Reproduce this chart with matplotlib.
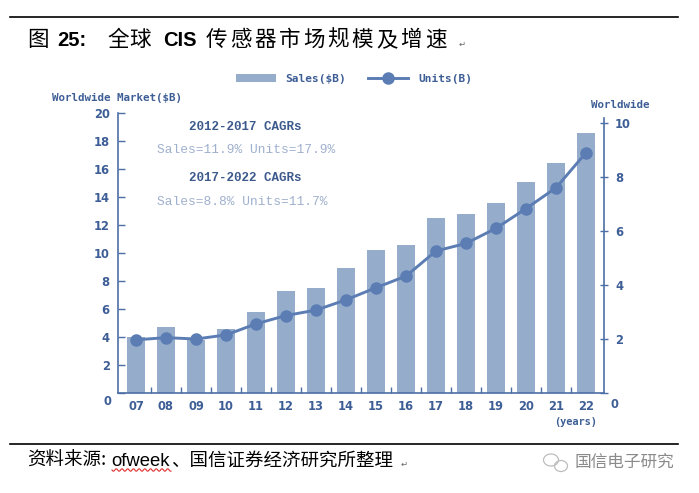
import numpy as np
import matplotlib.pyplot as plt
from matplotlib.patches import Ellipse

# ============================================================
# DATOS
# ============================================================

years = ["07", "08", "09", "10", "11", "12", "13", "14",
         "15", "16", "17", "18", "19", "20", "21", "22"]
sales = [4.0, 4.7, 3.8, 4.6, 5.8, 7.3, 7.5, 8.9,
         10.2, 10.6, 12.5, 12.8, 13.6, 15.1, 16.4, 18.6]
units = [1.97, 2.05, 2.0, 2.15, 2.56, 2.87, 3.07, 3.45,
         3.9, 4.33, 5.26, 5.54, 6.1, 6.83, 7.6, 8.9]
left_ticks = [0, 2, 4, 6, 8, 10, 12, 14, 16, 18, 20]
right_ticks = [0, 2, 4, 6, 8, 10]

cagr_lines = ["2012-2017 CAGRs", "Sales=11.9% Units=17.9%",
              "2017-2022 CAGRs", "Sales=8.8% Units=11.7%"]

# (texto, negrita, x inicial px, avance por caracter px)
title_parts = [("图", False, 27, 0), ("25:", True, 57, 0), ("全球", False, 107, 22.5),
               ("CIS", True, 163, 0), ("传感器市场规模及增速", False, 206, 24.3)]
source_parts = [("资料来源:", 27), ("ofweek", 111), ("、国信证券经济研究所整理", 171)]

# ============================================================
# ESTILO
# ============================================================

BAR = "#95adcb"
LINE = "#5b7db4"
AXIS = "#4d6fa6"
TXT = "#3e5e96"
LIGHT = "#9fb0cd"
CJK = ["Noto Sans CJK SC", "DejaVu Sans"]
MONO = "DejaVu Sans Mono"

W, H = 699, 493
fig = plt.figure(figsize=(W / 100, H / 100), dpi=100)


def px(x, y):
    return x / W, 1 - y / H


# ============================================================
# GRAFICA
# ============================================================

ax = fig.add_axes([118 / W, (H - 393) / H, (604 - 118) / W, 280 / H])
x = np.arange(len(years))
bars = ax.bar(x, sales, width=0.6, color=BAR, zorder=2)
ax.set_xlim(-0.6, len(years) - 0.4)
ax.set_ylim(0, 20)
ax.set_yticks(left_ticks)
ax.set_yticklabels([""] + [str(t) for t in left_ticks[1:]])
ax.set_xticks(x)
ax.set_xticklabels(years)
ax.set_xticks(x[:-1] + 0.5, minor=True)

ax2 = ax.twinx()
line, = ax2.plot(x, units, color=LINE, lw=2.1, marker="o", ms=8,
                 markerfacecolor=LINE, markeredgecolor=LINE, zorder=3)
ax2.set_ylim(0, 10 * 280 / 270)
ax2.set_yticks(right_ticks)
ax2.set_yticklabels([""] + [str(t) for t in right_ticks[1:]])

for a in (ax, ax2):
    for s in a.spines.values():
        s.set_visible(False)
    a.tick_params(colors=AXIS, labelcolor=TXT, labelsize=8.3)
    for lab in a.get_yticklabels() + a.get_xticklabels():
        lab.set_fontweight("bold")

ax.spines["left"].set_visible(True)
ax.spines["left"].set_color(AXIS)
ax.spines["left"].set_linewidth(1.2)
ax.spines["bottom"].set_visible(True)
ax.spines["bottom"].set_color(AXIS)
ax.spines["bottom"].set_linewidth(1.2)
ax2.spines["right"].set_visible(True)
ax2.spines["right"].set_color(AXIS)
ax2.spines["right"].set_linewidth(1.2)
ax2.spines["right"].set_bounds(0, 10.2)

ax.tick_params(axis="y", direction="in", length=5, width=1, pad=6)
ax.tick_params(axis="x", which="major", length=0, pad=5)
ax.tick_params(axis="x", which="minor", direction="in", length=4, width=1, color=AXIS)
ax2.tick_params(axis="y", direction="inout", length=6, width=1, pad=5)

# ceros de los ejes, algo mas abajo que el resto
ax.annotate("0", xy=(0, 0), xycoords="axes fraction", xytext=(-5, -6),
            textcoords="offset points", ha="right", va="center",
            fontsize=8.3, weight="bold", color=TXT)
ax2.annotate("0", xy=(1, 0), xycoords="axes fraction", xytext=(5, -8),
             textcoords="offset points", ha="left", va="center",
             fontsize=8.3, weight="bold", color=TXT)

fig.text(*px(52, 98), "Worldwide Market($B)", family=MONO, weight="bold",
         fontsize=7.8, color=TXT, va="center")
fig.text(*px(591, 105), "Worldwide", family=MONO, weight="bold",
         fontsize=7.8, color=TXT, va="center")
fig.text(*px(554, 422), "(years)", family=MONO, weight="bold",
         fontsize=7.4, color=TXT, va="center")

# textos CAGR
cagr_y = [127, 150, 178, 202]
for txt, yy in zip(cagr_lines, cagr_y):
    if "CAGRs" in txt:
        fig.text(*px(245, yy), txt, family="Liberation Mono", weight="bold",
                 fontsize=9, color="#3d5a8c", ha="center", va="center")
    else:
        fig.text(*px(157, yy), txt, family="Liberation Mono",
                 fontsize=9.3, color=LIGHT, ha="left", va="center")

# leyenda
leg = fig.legend([bars, line], ["Sales($B)", "Units(B)"], ncol=2,
                 loc="center", bbox_to_anchor=px(354, 79), frameon=False,
                 prop={"family": MONO, "weight": "bold", "size": 8},
                 handlelength=3.6, handleheight=0.8, columnspacing=2.0,
                 handletextpad=0.9, labelcolor=TXT)

# ============================================================
# TITULO Y FUENTE
# ============================================================

fig.add_artist(plt.Line2D([10 / W, 678 / W], [1 - 17 / H] * 2, color="black", lw=1.2))
fig.add_artist(plt.Line2D([10 / W, 678 / W], [1 - 444 / H] * 2, color="black", lw=1.2))

for txt, bold, xx, step in title_parts:
    if bold:
        fig.text(*px(xx, 40), txt, family="Liberation Sans", weight="bold",
                 fontsize=14.5, color="black", va="center")
    elif step == 0:
        fig.text(*px(xx, 40), txt, family=CJK, fontsize=15.5,
                 color="black", va="center")
    else:
        for i, ch in enumerate(txt):
            fig.text(*px(xx + i * step, 40), ch, family=CJK, fontsize=15.5,
                     color="black", va="center")
fig.text(*px(459, 44), "↵", family="DejaVu Sans", fontsize=6, color="#666666", va="center")

for txt, xx in source_parts:
    fam = ["Liberation Sans", "Noto Sans CJK SC"] if txt == "ofweek" else CJK
    fig.text(*px(xx, 461), txt, family=fam, fontsize=13.3, color="black", va="center")
fig.text(*px(401, 464), "↵", family="DejaVu Sans", fontsize=6, color="#666666", va="center")

# subrayado ondulado (corrector)
wx = np.linspace(112, 171, 60)
wy = 470 + 1.3 * np.sin((wx - 112) * 1.1)
fig.add_artist(plt.Line2D(wx / W, 1 - wy / H, color="#e03030", lw=0.8))

# marca de agua
fig.add_artist(Ellipse(px(551, 460), 15 / W, 12 / H, fill=False, ec="#bdbdbd", lw=0.9))
fig.add_artist(Ellipse(px(561, 466), 13 / W, 11 / H, fill=False, ec="#bdbdbd", lw=0.9))
fig.text(*px(575, 462), "国信电子研究", family=CJK, fontsize=12,
         color="#8a8a8a", va="center")

fig.savefig("out.png", dpi=100)
